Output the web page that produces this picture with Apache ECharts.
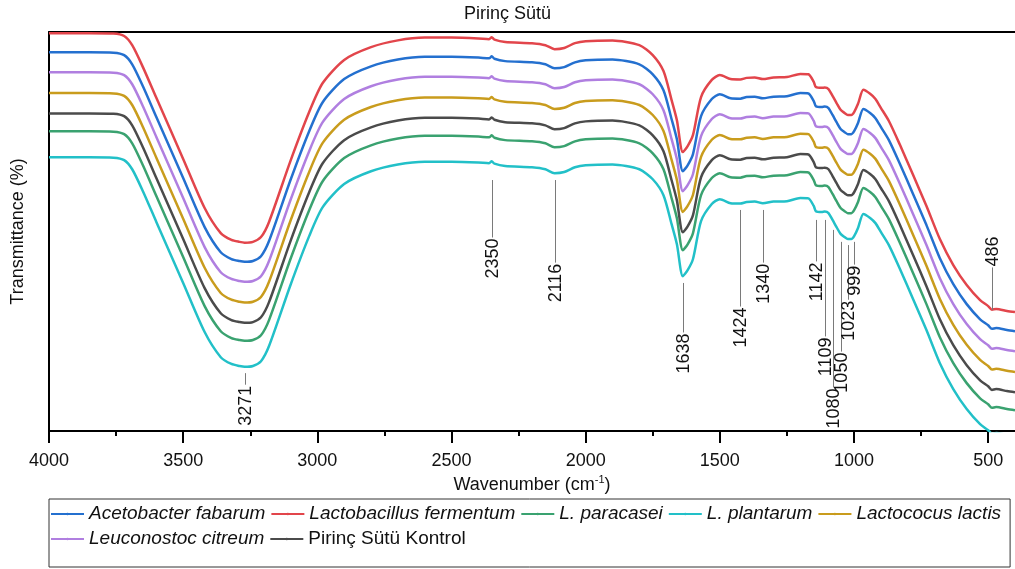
<!DOCTYPE html>
<html>
<head>
<meta charset="utf-8">
<script src="https://cdn.jsdelivr.net/npm/echarts@6/dist/echarts.min.js"></script>
<style>
  html, body { margin: 0; padding: 0; background: #fff; }
  #chart { width: 1015px; height: 569px; }
</style>
</head>
<body>
<div id="chart"></div>
<script>
// FTIR spectra of rice milk (Pirinç Sütü) fermented with different strains.
// Transmittance is in arbitrary (stacked) units, sampled at these wavenumbers.
const wavenumbers = [4000, 3850, 3760, 3720, 3690, 3650, 3600, 3500, 3420, 3360,
  3320, 3290, 3271, 3240, 3210, 3180, 3100, 3030, 2980, 2900,
  2800, 2700, 2600, 2500, 2400, 2360, 2350, 2340, 2300, 2200,
  2150, 2116, 2080, 2040, 2000, 1900, 1800, 1750, 1710, 1680,
  1660, 1638, 1620, 1600, 1570, 1530, 1500, 1460, 1424, 1400,
  1370, 1340, 1300, 1250, 1200, 1170, 1150, 1142, 1120, 1109,
  1095, 1080, 1065, 1050, 1035, 1023, 1010, 999, 985, 965,
  940, 920, 900, 870, 830, 780, 730, 680, 630, 580,
  530, 500, 486, 470, 430, 400];

const lactobacillusFermentum = [99.7, 99.7, 99.6, 99.0, 96.7, 91.2, 83.5, 68.2, 55.9, 49.6,
  47.9, 47.4, 47.2, 47.4, 48.6, 52.4, 67.7, 80.0, 87.2, 93.0,
  96.2, 97.9, 98.6, 98.6, 98.4, 98.2, 98.7, 98.1, 97.5, 97.2,
  96.7, 95.7, 96.0, 97.2, 97.7, 97.9, 96.7, 94.2, 90.2, 83.0,
  77.9, 69.9, 71.4, 74.2, 83.7, 88.0, 89.2, 88.2, 88.1, 88.5,
  88.6, 88.2, 88.6, 88.7, 89.5, 89.4, 87.5, 86.2, 86.0, 86.1,
  85.7, 84.0, 82.2, 80.5, 79.7, 79.2, 79.2, 80.0, 82.0, 85.5,
  84.5, 83.2, 81.0, 77.7, 71.9, 64.2, 56.4, 48.1, 41.6, 36.6,
  32.8, 31.3, 30.4, 30.6, 30.1, 29.8];

const acetobacterFabarum = [94.9, 94.9, 94.8, 94.2, 91.9, 86.4, 78.7, 63.4, 51.1, 44.8,
  43.1, 42.6, 42.4, 42.6, 43.8, 47.6, 62.9, 75.2, 82.4, 88.2,
  91.4, 93.1, 93.8, 93.8, 93.6, 93.4, 93.9, 93.3, 92.7, 92.4,
  91.9, 90.9, 91.2, 92.4, 92.9, 93.1, 91.9, 89.4, 85.4, 78.2,
  73.1, 65.1, 66.6, 69.4, 78.9, 83.2, 84.4, 83.4, 83.3, 83.7,
  83.8, 83.4, 83.8, 83.9, 84.7, 84.6, 82.7, 81.4, 81.2, 81.3,
  80.9, 79.2, 77.4, 75.7, 74.9, 74.4, 74.4, 75.2, 77.2, 80.7,
  79.7, 78.4, 76.2, 72.9, 67.1, 59.4, 51.6, 43.3, 36.8, 31.8,
  28.0, 26.5, 25.6, 25.8, 25.3, 25.0];

const leuconostocCitreum = [89.9, 89.9, 89.8, 89.2, 86.9, 81.4, 73.7, 58.4, 46.1, 39.8,
  38.1, 37.6, 37.4, 37.6, 38.8, 42.6, 57.9, 70.2, 77.4, 83.2,
  86.4, 88.1, 88.8, 88.8, 88.6, 88.4, 88.9, 88.3, 87.7, 87.4,
  86.9, 85.9, 86.2, 87.4, 87.9, 88.1, 86.9, 84.4, 80.4, 73.2,
  68.1, 60.1, 61.6, 64.4, 73.9, 78.2, 79.4, 78.4, 78.3, 78.7,
  78.8, 78.4, 78.8, 78.9, 79.7, 79.6, 77.7, 76.4, 76.2, 76.3,
  75.9, 74.2, 72.4, 70.7, 69.9, 69.4, 69.4, 70.2, 72.2, 75.7,
  74.7, 73.4, 71.2, 67.9, 62.1, 54.4, 46.6, 38.3, 31.8, 26.8,
  23.0, 21.5, 20.6, 20.8, 20.3, 20.0];

const lactococusLactis = [84.7, 84.7, 84.6, 84.0, 81.7, 76.2, 68.5, 53.2, 40.9, 34.6,
  32.9, 32.4, 32.2, 32.4, 33.6, 37.4, 52.7, 65.0, 72.2, 78.0,
  81.2, 82.9, 83.6, 83.6, 83.4, 83.2, 83.7, 83.1, 82.5, 82.2,
  81.7, 80.7, 81.0, 82.2, 82.7, 82.9, 81.7, 79.2, 75.2, 68.0,
  62.9, 54.9, 56.4, 59.2, 68.7, 73.0, 74.2, 73.2, 73.1, 73.5,
  73.6, 73.2, 73.6, 73.7, 74.5, 74.4, 72.5, 71.2, 71.0, 71.1,
  70.7, 69.0, 67.2, 65.5, 64.7, 64.2, 64.2, 65.0, 67.0, 70.5,
  69.5, 68.2, 66.0, 62.7, 56.9, 49.2, 41.4, 33.1, 26.6, 21.6,
  17.8, 16.3, 15.4, 15.6, 15.1, 14.8];

const pirincSutuKontrol = [79.6, 79.6, 79.5, 78.9, 76.6, 71.1, 63.4, 48.1, 35.8, 29.5,
  27.8, 27.3, 27.1, 27.3, 28.5, 32.3, 47.6, 59.9, 67.1, 72.9,
  76.1, 77.8, 78.5, 78.5, 78.3, 78.1, 78.6, 78.0, 77.4, 77.1,
  76.6, 75.6, 75.9, 77.1, 77.6, 77.8, 76.6, 74.1, 70.1, 62.9,
  57.8, 49.8, 51.3, 54.1, 63.6, 67.9, 69.1, 68.1, 68.0, 68.4,
  68.5, 68.1, 68.5, 68.6, 69.4, 69.3, 67.4, 66.1, 65.9, 66.0,
  65.6, 63.9, 62.1, 60.4, 59.6, 59.1, 59.1, 59.9, 61.9, 65.4,
  64.4, 63.1, 60.9, 57.6, 51.8, 44.1, 36.3, 28.0, 21.5, 16.5,
  12.7, 11.2, 10.3, 10.5, 10.0, 9.7];

const lParacasei = [75.1, 75.1, 75.0, 74.4, 72.1, 66.6, 58.9, 43.6, 31.3, 25.0,
  23.3, 22.8, 22.6, 22.8, 24.0, 27.8, 43.1, 55.4, 62.6, 68.4,
  71.6, 73.3, 74.0, 74.0, 73.8, 73.6, 74.1, 73.5, 72.9, 72.6,
  72.1, 71.1, 71.4, 72.6, 73.1, 73.3, 72.1, 69.6, 65.6, 58.4,
  53.3, 45.3, 46.8, 49.6, 59.1, 63.4, 64.6, 63.6, 63.5, 63.9,
  64.0, 63.6, 64.0, 64.1, 64.9, 64.8, 62.9, 61.6, 61.4, 61.5,
  61.1, 59.4, 57.6, 55.9, 55.1, 54.6, 54.6, 55.4, 57.4, 60.9,
  59.9, 58.6, 56.4, 53.1, 47.3, 39.6, 31.8, 23.5, 17.0, 12.0,
  8.2, 6.7, 5.8, 6.0, 5.5, 5.2];

const lPlantarum = [68.6, 68.6, 68.5, 67.9, 65.6, 60.1, 52.4, 37.1, 24.8, 18.5,
  16.8, 16.3, 16.1, 16.3, 17.5, 21.3, 36.6, 48.9, 56.1, 61.9,
  65.1, 66.8, 67.5, 67.5, 67.3, 67.1, 67.6, 67.0, 66.4, 66.1,
  65.6, 64.6, 64.9, 66.1, 66.6, 66.8, 65.6, 63.1, 59.1, 51.9,
  46.8, 38.8, 40.3, 43.1, 52.6, 56.9, 58.1, 57.1, 57.0, 57.4,
  57.5, 57.1, 57.5, 57.6, 58.4, 58.3, 56.4, 55.1, 54.9, 55.0,
  54.6, 52.9, 51.1, 49.4, 48.6, 48.1, 48.1, 48.9, 50.9, 54.4,
  53.4, 52.1, 49.9, 46.6, 40.8, 33.1, 25.3, 17.0, 10.5, 5.5,
  1.7, 0.2, -0.7, -0.5, -1.0, -1.3];

// Labelled band positions (cm-1)
const peakLabels = [3271, 2350, 2116, 1638, 1424, 1340, 1142, 1109, 1080, 1050, 1023, 999, 486];

// Axis tick values
const majorTicks = [4000, 3500, 3000, 2500, 2000, 1500, 1000, 500];
const minorTicks = [3750, 3250, 2750, 2250, 1750, 1250, 750];

// Leader line extents for each band label: [from, to] in transmittance units;
// the label is written beyond the "to" end.
const leaderSpans = {
  3271: [14.5, 11.6], 2350: [62.9, 48.5], 2116: [62.9, 42.2], 1638: [37.1, 24.7],
  1424: [55.4, 31.2], 1340: [55.4, 42.2], 1142: [52.9, 42.5], 1109: [52.9, 23.7],
  1080: [50.4, 10.9], 1050: [47.4, 19.9], 1023: [46.6, 32.9], 999: [47.4, 41.7],
  486: [30.3, 41.0]
};

const FONT = '"Liberation Sans", Arial, Helvetica, sans-serif';

const seriesDefs = [
  { name: 'Acetobacter fabarum', values: acetobacterFabarum, color: '#2470CF', italic: true },
  { name: 'Lactobacillus fermentum', values: lactobacillusFermentum, color: '#E2454B', italic: true },
  { name: 'L. paracasei', values: lParacasei, color: '#3AA270', italic: true },
  { name: 'L. plantarum', values: lPlantarum, color: '#22C0C8', italic: true },
  { name: 'Lactococus lactis', values: lactococusLactis, color: '#C99C1D', italic: true },
  { name: 'Leuconostoc citreum', values: leuconostocCitreum, color: '#B07FE0', italic: true },
  { name: 'Pirinç Sütü Kontrol', values: pirincSutuKontrol, color: '#4B4B4B', italic: false }
];

const lineSeries = seriesDefs.map(d => ({
  name: d.name,
  type: 'line',
  xAxisIndex: 0,
  yAxisIndex: 0,
  data: wavenumbers.map((w, i) => [w, d.values[i]]),
  symbol: 'none',
  smooth: 0.25,
  lineStyle: { color: d.color, width: 2.5 },
  itemStyle: { color: d.color },
  z: 2
}));

const annotationSeries = {
  type: 'custom',
  name: 'bands',
  xAxisIndex: 0,
  yAxisIndex: 0,
  silent: true,
  z: 3,
  data: peakLabels.map(w => [w, leaderSpans[w][0], leaderSpans[w][1]]),
  renderItem: function (params, api) {
    const w = api.value(0);
    const p1 = api.coord([w, api.value(1)]);
    const p2 = api.coord([w, api.value(2)]);
    const below = p2[1] > p1[1];
    const x = Math.round(p1[0]) + 0.5;
    return {
      type: 'group',
      children: [
        {
          type: 'line',
          shape: { x1: x, y1: p1[1], x2: x, y2: p2[1] },
          style: { stroke: '#7a7a7a', lineWidth: 1 }
        },
        {
          type: 'text',
          x: x + 1,
          y: p2[1] + (below ? 1 : -1),
          rotation: Math.PI / 2,
          style: {
            text: String(w),
            fontSize: 18,
            fontFamily: FONT,
            fill: '#111',
            align: below ? 'right' : 'left',
            verticalAlign: 'middle'
          }
        }
      ]
    };
  }
};

const chart = echarts.init(document.getElementById('chart'), null, { renderer: 'canvas' });

chart.setOption({
  animation: false,
  backgroundColor: '#fff',
  textStyle: { fontFamily: FONT },
  title: {
    text: 'Pirinç Sütü',
    left: 'center',
    top: 0,
    textStyle: { fontSize: 18, fontWeight: 'normal', color: '#111', fontFamily: FONT }
  },
  grid: { left: 49, right: 0, top: 32, bottom: 138, containLabel: false },
  legend: {
    left: 49,
    top: 499,
    width: 958,
    orient: 'horizontal',
    padding: [5, 9, 18, 1],
    itemWidth: 33,
    itemHeight: 3,
    itemGap: 5,
    borderColor: '#333',
    borderWidth: 1,
    borderRadius: 0,
    textStyle: { fontSize: 19, color: '#111', fontFamily: FONT, lineHeight: 20 },
    data: seriesDefs.map(d => ({
      name: d.name,
      textStyle: { fontStyle: d.italic ? 'italic' : 'normal' }
    }))
  },
  xAxis: [
    {
      type: 'value',
      inverse: true,
      min: 400,
      max: 4000,
      position: 'bottom',
      axisLine: { show: true, onZero: false, lineStyle: { color: '#000', width: 2 } },
      axisTick: { show: true, inside: false, length: 12, customValues: majorTicks, lineStyle: { color: '#000', width: 2 } },
      axisLabel: {
        show: true, customValues: majorTicks, margin: 21, fontSize: 18, color: '#111', fontFamily: FONT,
        formatter: v => String(v)
      },
      splitLine: { show: false },
      name: 'Wavenumber (cm{sup|-1})',
      nameLocation: 'middle',
      nameGap: 38,
      nameTextStyle: {
        fontSize: 18, color: '#111', fontFamily: FONT,
        rich: { sup: { fontSize: 11, color: '#111', fontFamily: FONT, verticalAlign: 'top', padding: [0, 0, 9, 0] } }
      }
    },
    {
      type: 'value',
      inverse: true,
      min: 400,
      max: 4000,
      position: 'bottom',
      axisLine: { show: false, onZero: false },
      axisTick: { show: true, inside: false, length: 5, customValues: minorTicks, lineStyle: { color: '#000', width: 2 } },
      axisLabel: { show: false },
      splitLine: { show: false }
    },
    {
      type: 'value',
      inverse: true,
      min: 400,
      max: 4000,
      position: 'top',
      axisLine: { show: true, onZero: false, lineStyle: { color: '#000', width: 2 } },
      axisTick: { show: false },
      axisLabel: { show: false },
      splitLine: { show: false }
    }
  ],
  yAxis: {
    type: 'value',
    min: 0,
    max: 100,
    axisLine: { show: true, onZero: false, lineStyle: { color: '#000', width: 2 } },
    axisTick: { show: false },
    axisLabel: { show: false },
    splitLine: { show: false },
    name: 'Transmittance (%)',
    nameLocation: 'middle',
    nameGap: 22,
    nameTextStyle: { fontSize: 18, color: '#111', fontFamily: FONT }
  },
  series: lineSeries.concat([annotationSeries])
});
</script>
</body>
</html>
